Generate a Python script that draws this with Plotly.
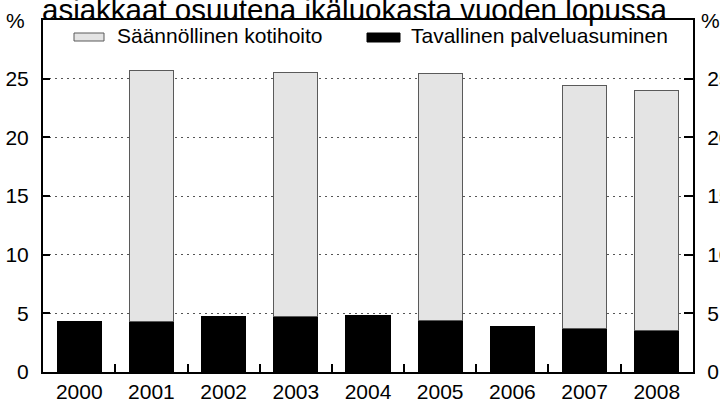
import plotly.graph_objects as go

years = ["2000", "2001", "2002", "2003", "2004", "2005", "2006", "2007", "2008"]
palveluasuminen = [4.3, 4.3, 4.7, 4.7, 4.8, 4.4, 3.9, 3.7, 3.5]
kotihoito = [None, 21.4, None, 20.8, None, 21.0, None, 20.7, 20.5]
ytick_vals = [0, 5, 10, 15, 20, 25]
title_text = "asiakkaat osuutena ikäluokasta vuoden lopussa"
name_gray = "Säännöllinen kotihoito"
name_black = "Tavallinen palveluasuminen"

W, H = 720, 401
ML, MR, MT, MB = 43, 27, 20, 29
PW, PH = W - ML - MR, H - MT - MB
FONT = "Liberation Sans, Arial, sans-serif"

def px(x):
    return (x - ML) / PW

def py(y):
    return (H - MB - y) / PH

fig = go.Figure()
fig.add_trace(go.Bar(x=years, y=palveluasuminen, name=name_black,
                     marker=dict(color="black", line=dict(color="black", width=1))))
fig.add_trace(go.Bar(x=years, y=kotihoito, name=name_gray,
                     marker=dict(color="#e4e4e4", line=dict(color="#5a5a5a", width=1))))
# invisible trace to activate the right-hand axis
fig.add_trace(go.Scatter(x=years, y=palveluasuminen, yaxis="y2", mode="markers",
                         marker=dict(opacity=0), hoverinfo="skip", showlegend=False))

shapes = [
    dict(type="rect", xref="paper", yref="paper", x0=px(74), x1=px(104), y0=py(41), y1=py(33),
         fillcolor="#e4e4e4", line=dict(color="#5a5a5a", width=1)),
    dict(type="rect", xref="paper", yref="paper", x0=px(367), x1=px(400), y0=py(42), y1=py(33),
         fillcolor="black", line=dict(color="black", width=1)),
]
annotations = [
    dict(text=name_gray, xref="paper", yref="paper", x=px(115), y=py(36), xanchor="left",
         yanchor="middle", showarrow=False, font=dict(size=21, color="black", family=FONT)),
    dict(text=name_black, xref="paper", yref="paper", x=px(409), y=py(36), xanchor="left",
         yanchor="middle", showarrow=False, font=dict(size=21, color="black", family=FONT)),
    dict(text=title_text, xref="paper", yref="paper", x=px(354.5), y=py(27.5), xanchor="center",
         yanchor="bottom", showarrow=False, font=dict(size=29.5, color="black", family=FONT)),
    dict(text="%", xref="paper", yref="paper", x=px(15), y=py(20), xanchor="center",
         yanchor="middle", showarrow=False, font=dict(size=21, color="black", family=FONT)),
    dict(text="%", xref="paper", yref="paper", x=px(710), y=py(20), xanchor="center",
         yanchor="middle", showarrow=False, font=dict(size=21, color="black", family=FONT)),
]

fig.update_layout(
    width=W, height=H, barmode="stack", bargap=0.39,
    margin=dict(l=ML, r=MR, t=MT, b=MB, pad=0, autoexpand=False),
    paper_bgcolor="white", plot_bgcolor="white",
    showlegend=False,
    font=dict(family=FONT, size=21, color="black"),
    shapes=shapes, annotations=annotations,
    xaxis=dict(type="category", showline=True, linecolor="black", linewidth=2, mirror=True,
               ticks="inside", tickson="boundaries", ticklen=8, tickcolor="black", tickwidth=1.5,
               showgrid=False, tickfont=dict(size=21), ticklabelstandoff=0, automargin=False),
    yaxis=dict(range=[0, 30], tickvals=ytick_vals, showline=True, linecolor="black", linewidth=2,
               ticks="inside", ticklen=7, tickcolor="black", tickwidth=1.5,
               showgrid=True, gridcolor="#555555", griddash="2px,4px", gridwidth=1,
               zeroline=False, tickfont=dict(size=21), ticklabelstandoff=8, automargin=False),
    yaxis2=dict(range=[0, 30], tickvals=ytick_vals, overlaying="y", side="right",
                showline=True, linecolor="black", linewidth=2,
                ticks="inside", ticklen=9, tickcolor="black", tickwidth=1.5,
                showgrid=False, zeroline=False, tickfont=dict(size=21), ticklabelstandoff=8,
                automargin=False),
)

fig.write_html("out.html", config={"displayModeBar": False},
               post_script="document.body.style.margin='0';document.body.style.overflow='hidden';")
